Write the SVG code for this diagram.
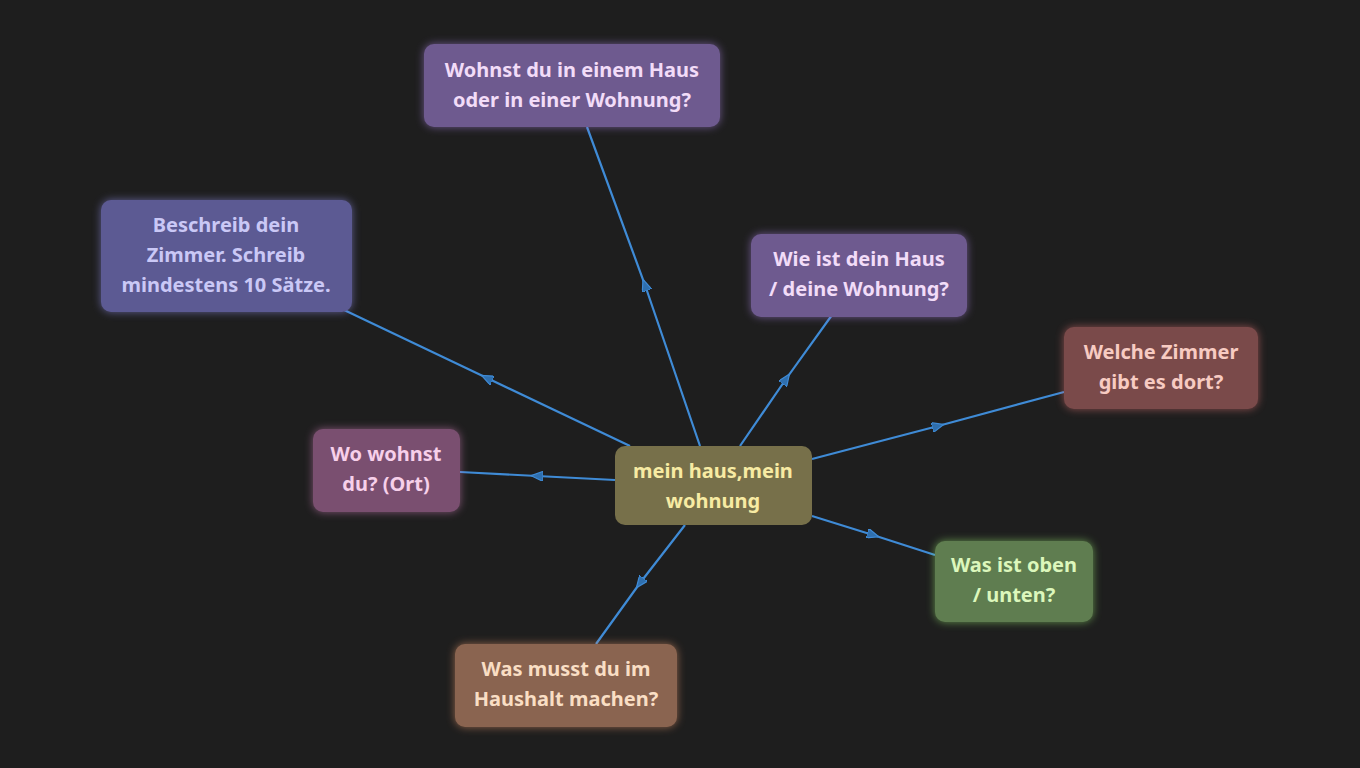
<svg xmlns="http://www.w3.org/2000/svg" width="1360" height="768" viewBox="0 0 1360 768">
<style>
text{font-family:"Noto Sans","Open Sans",sans-serif;font-weight:bold;font-size:20px;text-anchor:middle}
.e{fill:none;stroke:#3f8bd6;stroke-width:2.2;marker-mid:url(#a)}
</style>
<defs>
<marker id="a" viewBox="0 0 12 10" refX="6" refY="5" markerWidth="12" markerHeight="10" markerUnits="userSpaceOnUse" orient="auto"><path d="M0,0 L12,5 L0,10 Z" fill="#2f6fae" stroke="#3f8bd6" stroke-width="1.2"/></marker>
<filter id="g" x="-20%" y="-30%" width="140%" height="160%"><feGaussianBlur stdDeviation="4"/></filter>
</defs>
<rect width="1360" height="768" fill="#1e1e1e"/>
<g id="connectors">
<path class="e" d="M700,446 L645,285 L587,127"/>
<path class="e" d="M630,446 L487,378 L342,309"/>
<path class="e" d="M740,446 L786,379 L832,315"/>
<path class="e" d="M812,459 L938,426 L1064,392"/>
<path class="e" d="M615,480 L537,476 L460,472"/>
<path class="e" d="M812,516 L873,535 L935,555"/>
<path class="e" d="M685,525 L640,583 L596,644"/>
</g>
<g id="center"><rect x="615" y="446" width="197" height="79" rx="10" fill="#77704a"/><text fill="#f7eba3"><tspan x="713" y="478">mein haus,mein</tspan><tspan x="713" y="508">wohnung</tspan></text></g>
<g id="n1"><rect x="424" y="44" width="296" height="83" rx="10" fill="#a37fd6" filter="url(#g)" opacity="0.6"/><rect x="424" y="44" width="296" height="83" rx="10" fill="#6e5a8f"/><text fill="#f2dcf8"><tspan x="572" y="77">Wohnst du in einem Haus</tspan><tspan x="572" y="107">oder in einer Wohnung?</tspan></text></g>
<g id="n2"><rect x="101" y="200" width="251" height="112" rx="10" fill="#8a88e0" filter="url(#g)" opacity="0.6"/><rect x="101" y="200" width="251" height="112" rx="10" fill="#5c5a93"/><text fill="#cac8f6"><tspan x="226" y="232">Beschreib dein</tspan><tspan x="226" y="262">Zimmer. Schreib</tspan><tspan x="226" y="292">mindestens 10 Sätze.</tspan></text></g>
<g id="n3"><rect x="751" y="234" width="216" height="83" rx="10" fill="#a37fd6" filter="url(#g)" opacity="0.6"/><rect x="751" y="234" width="216" height="83" rx="10" fill="#6e5a8f"/><text fill="#f2dcf8"><tspan x="859" y="266">Wie ist dein Haus</tspan><tspan x="859" y="296">/ deine Wohnung?</tspan></text></g>
<g id="n4"><rect x="1064" y="327" width="194" height="82" rx="10" fill="#d86e6e" filter="url(#g)" opacity="0.6"/><rect x="1064" y="327" width="194" height="82" rx="10" fill="#7a4a4a"/><text fill="#f7cbc2"><tspan x="1161" y="359">Welche Zimmer</tspan><tspan x="1161" y="389">gibt es dort?</tspan></text></g>
<g id="n5"><rect x="313" y="429" width="147" height="83" rx="10" fill="#c67ab0" filter="url(#g)" opacity="0.6"/><rect x="313" y="429" width="147" height="83" rx="10" fill="#7a4f70"/><text fill="#f7d0ea"><tspan x="386" y="461">Wo wohnst</tspan><tspan x="386" y="491">du? (Ort)</tspan></text></g>
<g id="n6"><rect x="935" y="541" width="158" height="81" rx="10" fill="#8fdc6a" filter="url(#g)" opacity="0.6"/><rect x="935" y="541" width="158" height="81" rx="10" fill="#5f7d50"/><text fill="#dcf7bc"><tspan x="1014" y="572">Was ist oben</tspan><tspan x="1014" y="602">/ unten?</tspan></text></g>
<g id="n7"><rect x="455" y="644" width="222" height="83" rx="10" fill="#e0956a" filter="url(#g)" opacity="0.6"/><rect x="455" y="644" width="222" height="83" rx="10" fill="#8a6450"/><text fill="#f9dec4"><tspan x="566" y="676">Was musst du im</tspan><tspan x="566" y="706">Haushalt machen?</tspan></text></g>
</svg>
